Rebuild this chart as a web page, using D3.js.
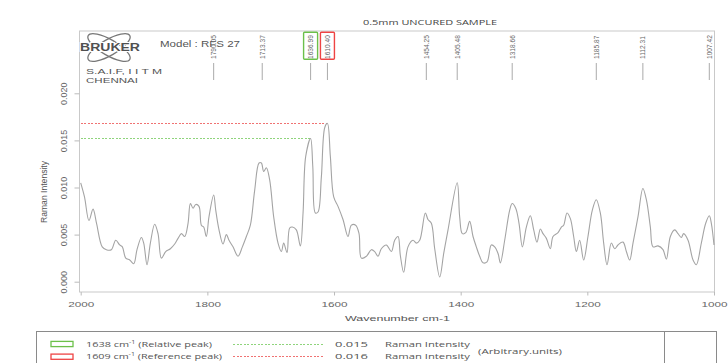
<!DOCTYPE html>
<html>
<head>
<meta charset="utf-8">
<script src="https://cdn.jsdelivr.net/npm/d3@7"></script>
<style>
  body { margin: 0; background: #fff; }
  svg { display: block; }
</style>
</head>
<body>
<svg id="chart" width="728" height="363"></svg>
<script>
// Raman spectrum, 0.5 mm uncured sample (wavenumber in cm-1, intensity in arbitrary units)
const wavenumber = [
  2000, 1994, 1987, 1980.5, 1975, 1966, 1959.5, 1951.6, 1944.7, 1938.4,
  1934.2, 1928.9, 1922.6, 1916.3, 1911.1, 1904.2, 1900.5, 1895.3, 1890, 1883.2,
  1877.9, 1872.6, 1865.8, 1858.4, 1851.6, 1846.3, 1841, 1835.8, 1830.5, 1826.8,
  1822.6, 1818.4, 1813.2, 1809.5, 1805.8, 1801.6, 1797.4, 1790, 1786.8, 1781.6,
  1775.3, 1770, 1765.8, 1759.5, 1751.6, 1744.7, 1738.4, 1732.1, 1725.3, 1718.4,
  1714.7, 1711.1, 1706.8, 1701.6, 1695.3, 1688.4, 1683.1, 1679.5, 1674.2, 1670,
  1665.8, 1659.5, 1653.1, 1648.9, 1644.7, 1637, 1633.5, 1629.5, 1625.3, 1620,
  1614.5, 1610.4, 1605.8, 1600.5, 1593.7, 1585.8, 1577.9, 1572.6, 1565.8, 1560.5,
  1556.8, 1548.9, 1541, 1535.8, 1530.5, 1525.3, 1517.4, 1509.5, 1504.2, 1498.9,
  1495.3, 1490, 1483.2, 1475.3, 1470, 1464.7, 1455.8, 1451.6, 1446.3, 1441,
  1433.1, 1426.8, 1420, 1405.5, 1401.6, 1397.4, 1392.1, 1385.8, 1380.5, 1375.3,
  1370, 1364.7, 1358.4, 1351.6, 1346.3, 1341, 1337.3, 1330.5, 1322.6, 1318.7,
  1313.1, 1307.9, 1302.6, 1296.3, 1290, 1284.7, 1279.5, 1274.2, 1270, 1264.7,
  1258.4, 1254.2, 1246.3, 1241, 1237.4, 1232.1, 1226.8, 1221.6, 1217.3, 1212.1,
  1205.8, 1199, 1192.1, 1185.9, 1179.5, 1174.2, 1168.9, 1162.1, 1156.8, 1151.6,
  1143.7, 1138.4, 1133.1, 1127.9, 1120, 1112.3, 1106.8, 1100.5, 1096.3, 1088.4,
  1080.5, 1075.2, 1068.9, 1062.1, 1056.8, 1051.6, 1047.9, 1041, 1033.1, 1027.9,
  1020, 1013.1, 1007.4, 1004.2, 1000
];
const intensity = [
  0.0105, 0.0090, 0.0065, 0.0077, 0.0062, 0.0037, 0.0034, 0.0034, 0.0044, 0.0039,
  0.0037, 0.0025, 0.0023, 0.0019, 0.0034, 0.0047, 0.0041, 0.0018, 0.0041, 0.0061,
  0.0051, 0.0025, 0.0032, 0.0035, 0.0040, 0.0046, 0.0051, 0.0048, 0.0062, 0.0083,
  0.0078, 0.0082, 0.0080, 0.0060, 0.0058, 0.0048, 0.0069, 0.0092, 0.0076, 0.0055,
  0.0040, 0.0050, 0.0044, 0.0037, 0.0027, 0.0037, 0.0048, 0.0060, 0.0097, 0.0126,
  0.0126, 0.0117, 0.0121, 0.0108, 0.0069, 0.0041, 0.0032, 0.0041, 0.0031, 0.0057,
  0.0058, 0.0055, 0.0038, 0.0073, 0.0133, 0.0152, 0.0122, 0.0073, 0.0074, 0.0111,
  0.0164, 0.0168, 0.0133, 0.0090, 0.0080, 0.0066, 0.0048, 0.0060, 0.0060, 0.0051,
  0.0025, 0.0027, 0.0034, 0.0032, 0.0027, 0.0035, 0.0039, 0.0032, 0.0044, 0.0048,
  0.0028, 0.0010, 0.0037, 0.0044, 0.0041, 0.0044, 0.0073, 0.0066, 0.0062, 0.0035,
  0.0005, 0.0030, 0.0055, 0.0105, 0.0069, 0.0051, 0.0052, 0.0064, 0.0048, 0.0037,
  0.0027, 0.0020, 0.0021, 0.0039, 0.0037, 0.0030, 0.0020, 0.0044, 0.0076, 0.0083,
  0.0078, 0.0062, 0.0037, 0.0058, 0.0070, 0.0055, 0.0042, 0.0056, 0.0051, 0.0046,
  0.0035, 0.0048, 0.0052, 0.0058, 0.0060, 0.0073, 0.0067, 0.0048, 0.0032, 0.0044,
  0.0023, 0.0048, 0.0076, 0.0087, 0.0073, 0.0041, 0.0018, 0.0041, 0.0035, 0.0039,
  0.0042, 0.0032, 0.0023, 0.0041, 0.0069, 0.0099, 0.0087, 0.0058, 0.0037, 0.0038,
  0.0034, 0.0024, 0.0048, 0.0055, 0.0051, 0.0047, 0.0051, 0.0044, 0.0023, 0.0018,
  0.0041, 0.0062, 0.0070, 0.0062, 0.0039
];

// Peak picks printed along the top of the plot
const peakPositions = [1790.05, 1713.37, 1636.99, 1610.40, 1454.25, 1405.48, 1318.66, 1185.87, 1112.31, 1007.42];

// The two peaks compared in the legend
const markedPeakPositions = [1636.99, 1610.40];
const markedPeakIntensity = [0.0152, 0.0168];
const legendWavenumbers = [1638, 1609];
const legendRoles = ["Relative peak", "Reference peak"];

const xTicks = [2000, 1800, 1600, 1400, 1200, 1000];
const yTicks = [0, 0.005, 0.010, 0.015, 0.020];

// ---- styling ----
const markColors = ["#6cc04a", "#ee4444"];
const refLineColors = ["#8fd47c", "#f07272"];
const SANS = "'Liberation Sans', Arial, sans-serif";
const OPEN = "'Open Sans', 'Liberation Sans', sans-serif";
const TEXT_GREY = "#555";

const svg = d3.select("#chart");

const x = d3.scaleLinear().domain([2000, 1000]).range([80.7, 714]);
const y = d3.scaleLinear().domain([0, 0.02]).range([281.7, 93.3]);

const frame = { left: 79.5, right: 714.5, top: 31, bottom: 292 };

// horizontal text with a fixed rendered width
function hText(str, px, py, size, width, opts = {}) {
  const t = svg.append("text")
    .attr("x", px).attr("y", py)
    .attr("font-family", opts.family || SANS)
    .attr("font-size", size)
    .attr("fill", opts.fill || TEXT_GREY)
    .attr("text-anchor", opts.anchor || "start")
    .attr("font-weight", opts.weight || "normal")
    .text(str);
  if (width) t.attr("textLength", width).attr("lengthAdjust", "spacingAndGlyphs");
  return t;
}

// ---- plot frame ----
svg.append("rect")
  .attr("x", frame.left).attr("y", frame.top)
  .attr("width", frame.right - frame.left).attr("height", frame.bottom - frame.top)
  .attr("fill", "none").attr("stroke", "#c9c9c9").attr("stroke-width", 1);

// ---- title ----
hText("0.5mm UNCURED SAMPLE", 430, 25, 8, 134, { family: OPEN, anchor: "middle", fill: "#444" });

// ---- instrument logo and text ----
const logo = svg.append("g").attr("transform", "translate(109,47.5)");
[-30, 30].forEach(a => {
  logo.append("ellipse")
    .attr("rx", 24).attr("ry", 8)
    .attr("transform", `rotate(${a})`)
    .attr("fill", "none").attr("stroke", "#777").attr("stroke-width", 1.3);
});
hText("BRUKER", 80, 51, 11, 60, { weight: "bold", fill: "#505050" })
  .attr("stroke", "#fff").attr("stroke-width", 2).attr("paint-order", "stroke");
hText("S.A.I.F, I I T M", 86, 74, 8, 76, { fill: "#555" });
hText("CHENNAI", 86, 82.5, 8, 52, { fill: "#555" });
hText("Model : RFS 27", 160, 46.5, 9.3, 80, { fill: "#555" });

// ---- peak picks ----
const peaks = svg.append("g");
peakPositions.forEach(p => {
  const g = peaks.append("g").attr("transform", `translate(${x(p)},0)`);
  g.append("line").attr("x1", 0).attr("x2", 0).attr("y1", 63).attr("y2", 80)
    .attr("stroke", "#aaa").attr("stroke-width", 1);
  g.append("text")
    .attr("transform", "translate(0,59) rotate(-90)")
    .attr("font-family", SANS).attr("font-size", 6.6)
    .attr("fill", "#666").attr("dominant-baseline", "central")
    .text(p.toFixed(2));
});

// boxes around the compared peaks
markedPeakPositions.forEach((p, i) => {
  svg.append("rect")
    .attr("x", x(p) - 7).attr("y", 32.2)
    .attr("width", 14).attr("height", 27)
    .attr("rx", 1)
    .attr("fill", "none").attr("stroke", markColors[i]).attr("stroke-width", 1.4);
});

// ---- dotted reference levels from the axis to each compared peak ----
markedPeakPositions.forEach((p, i) => {
  svg.append("line")
    .attr("x1", frame.left + 1).attr("x2", x(p))
    .attr("y1", y(markedPeakIntensity[i])).attr("y2", y(markedPeakIntensity[i]))
    .attr("stroke", refLineColors[i]).attr("stroke-width", 1)
    .attr("shape-rendering", "crispEdges")
    .attr("stroke-dasharray", "2,1.5");
});

// ---- spectrum ----
const spectrum = wavenumber.map((w, i) => [w, intensity[i]]);
const line = d3.line()
  .x(d => x(d[0]))
  .y(d => y(d[1]))
  .curve(d3.curveCatmullRom.alpha(0.5));
svg.append("path")
  .datum(spectrum)
  .attr("d", line)
  .attr("fill", "none")
  .attr("stroke", "#a4a4a4")
  .attr("stroke-width", 1.1);

// ---- axes ----
const xAxis = svg.append("g")
  .attr("transform", `translate(0,${frame.bottom})`)
  .call(d3.axisBottom(x).tickValues(xTicks).tickSize(3.5).tickFormat(d3.format("d")));
xAxis.select(".domain").remove();
xAxis.selectAll(".tick line").attr("stroke", "#bbb");
xAxis.selectAll(".tick text")
  .attr("y", 15.3).attr("dy", 0)
  .attr("font-family", SANS).attr("font-size", 8)
  .attr("fill", "#666")
  .attr("textLength", 26).attr("lengthAdjust", "spacingAndGlyphs");

const yAxis = svg.append("g")
  .attr("transform", `translate(${frame.left},0)`)
  .call(d3.axisLeft(y).tickValues(yTicks).tickSize(5).tickFormat(d3.format(".3f")));
yAxis.select(".domain").remove();
yAxis.selectAll(".tick line").attr("stroke", "#bbb");
yAxis.selectAll(".tick text")
  .attr("transform", "rotate(-90)")
  .attr("x", 0).attr("y", -12.5).attr("dy", 0)
  .attr("text-anchor", "middle")
  .attr("font-family", SANS).attr("font-size", 9)
  .attr("fill", "#666");

hText("Wavenumber cm-1", 397.5, 320.5, 8, 105, { anchor: "middle", fill: "#555" });

svg.append("text")
  .attr("transform", "translate(46.5,192) rotate(-90)")
  .attr("text-anchor", "middle")
  .attr("font-family", SANS).attr("font-size", 8.6)
  .attr("fill", "#555")
  .text("Raman Intensity");

// ---- legend ----
svg.append("rect")
  .attr("x", 36.5).attr("y", 331.5)
  .attr("width", 680).attr("height", 40)
  .attr("fill", "none").attr("stroke", "#8a8a8a").attr("stroke-width", 1);
svg.append("line")
  .attr("x1", 664.5).attr("x2", 664.5).attr("y1", 331.5).attr("y2", 363)
  .attr("stroke", "#8a8a8a").attr("stroke-width", 1);

const truncate3 = v => (Math.floor(v * 1000 + 1e-9) / 1000).toFixed(3);
const rowBase = [346.5, 359];
const rowMid = [344, 356.7];
const labelWidths = [126, 136];

legendWavenumbers.forEach((wn, i) => {
  svg.append("rect")
    .attr("x", 51).attr("y", rowMid[i] - 2.6)
    .attr("width", 22).attr("height", 5.2)
    .attr("fill", "none").attr("stroke", markColors[i]).attr("stroke-width", 1.3);

  const t = svg.append("text")
    .attr("x", 86).attr("y", rowBase[i])
    .attr("font-family", OPEN).attr("font-size", 7.6)
    .attr("fill", TEXT_GREY)
    .attr("textLength", labelWidths[i]).attr("lengthAdjust", "spacingAndGlyphs");
  t.append("tspan").text(`${wn} cm`);
  t.append("tspan").attr("font-size", 5).attr("dy", -3).text("-1");
  t.append("tspan").attr("dy", 3).text(` (${legendRoles[i]})`);

  svg.append("line")
    .attr("x1", 233).attr("x2", 323)
    .attr("y1", rowMid[i]).attr("y2", rowMid[i])
    .attr("stroke", refLineColors[i]).attr("stroke-width", 1)
    .attr("shape-rendering", "crispEdges")
    .attr("stroke-dasharray", "2,1.5");

  hText(truncate3(markedPeakIntensity[i]), 335, rowBase[i], 7.6, 33, { family: OPEN });
  hText("Raman Intensity", 385, rowBase[i], 7.6, 85, { family: OPEN });
});
hText("(Arbitrary.units)", 478, 353.5, 7.6, 84, { family: OPEN });
</script>
</body>
</html>
